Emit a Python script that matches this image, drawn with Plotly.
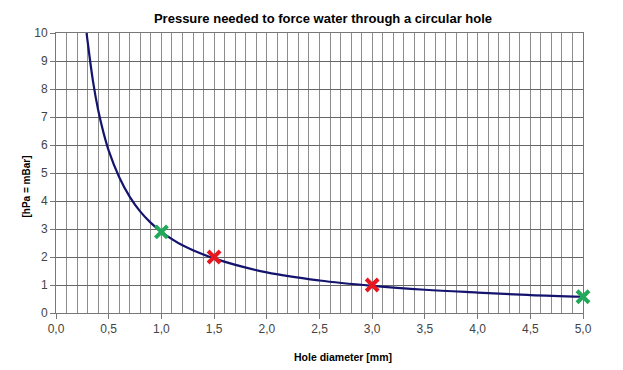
import plotly.graph_objects as go

# Curve
diameter = [0.29, 0.30, 0.35, 0.40, 0.45, 0.50, 0.60, 0.70, 0.80, 0.90, 1.00, 1.20, 1.50,
            2.00, 2.50, 3.00, 3.50, 4.00, 4.50, 5.00]
pressure = [10.0, 9.7, 8.3, 7.25, 6.45, 5.8, 4.85, 4.15, 3.62, 3.22, 2.9, 2.42, 1.95,
            1.45, 1.16, 0.97, 0.83, 0.73, 0.64, 0.58]

# Marked points
green_x = [1.0, 5.0]
green_y = [2.9, 0.58]
red_x = [1.5, 3.0]
red_y = [2.0, 1.0]

x_ticks = [0.0, 0.5, 1.0, 1.5, 2.0, 2.5, 3.0, 3.5, 4.0, 4.5, 5.0]
x_tick_labels = ["0,0", "0,5", "1,0", "1,5", "2,0", "2,5", "3,0", "3,5", "4,0", "4,5", "5,0"]
y_ticks = list(range(0, 11))

W, H = 623, 370
L, T, R, B = 48, 25, 48, 65
pw = W - L - R
ph = H - T - B


def px_x(p):
    return (p - L) / pw


def px_y(p):
    return 1 - (p - T) / ph


fig = go.Figure()
fig.add_trace(go.Scatter(x=diameter, y=pressure, mode="lines",
                         line=dict(color="#14146e", width=2.2, shape="spline"),
                         hoverinfo="skip", showlegend=False))
fig.add_trace(go.Scatter(x=green_x, y=green_y, mode="markers",
                         marker=dict(symbol="x-thin", size=12, color="#22a85a",
                                     line=dict(width=4, color="#22a85a")),
                         showlegend=False, cliponaxis=False))
fig.add_trace(go.Scatter(x=red_x, y=red_y, mode="markers",
                         marker=dict(symbol="x-thin", size=12, color="#e8161e",
                                     line=dict(width=4, color="#e8161e")),
                         showlegend=False, cliponaxis=False))

fig.update_layout(
    width=W, height=H,
    margin=dict(l=L, r=R, t=T, b=B),
    paper_bgcolor="white", plot_bgcolor="white",
    font=dict(family="Liberation Sans, Arial, sans-serif", size=12, color="#444444"),
    title=dict(text="<b>Pressure needed to force water through a circular hole</b>",
               x=315 / W, xanchor="center", xref="container",
               y=1 - 10 / H, yanchor="middle", yref="container",
               font=dict(size=13, color="#000000")),
    xaxis=dict(range=[0, 5], showgrid=True, gridcolor="#8c8c8c", gridwidth=1,
               tickmode="array", tickvals=x_ticks, ticktext=x_tick_labels,
               ticks="outside", ticklen=5, tickcolor="#777777",
               showline=True, linecolor="#777777", mirror=True, zeroline=False,
               minor=dict(dtick=0.1, tick0=0, showgrid=True, gridcolor="#8c8c8c", gridwidth=1)),
    yaxis=dict(range=[0, 10], tickvals=y_ticks, showgrid=True, gridcolor="#666666",
               ticks="outside", ticklen=5, tickcolor="#777777",
               showline=True, linecolor="#777777", mirror=True, zeroline=False),
    annotations=[
        dict(text="<b>Hole diameter [mm]</b>", x=px_x(335), y=px_y(357),
             xref="paper", yref="paper", showarrow=False,
             font=dict(size=10.5, color="#000000")),
        dict(text="<b>[hPa = mBar]</b>", x=px_x(10), y=px_y(179),
             xref="paper", yref="paper", showarrow=False, textangle=-90,
             font=dict(size=10, color="#000000")),
    ],
)

fig.write_html("out.html")
